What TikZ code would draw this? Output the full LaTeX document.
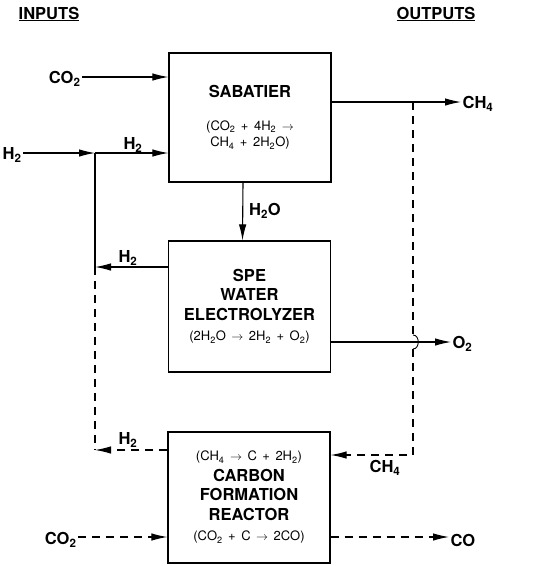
\documentclass[tikz,border=0pt]{standalone}
\usepackage{fontspec}
\setmainfont{TeX Gyre Heros}
\usetikzlibrary{arrows.meta,positioning}
\newcommand{\rxn}{\fontsize{13}{15}\selectfont\mdseries}
\newcommand{\yields}{$\rightarrow$}

\begin{document}
\begin{tikzpicture}[x=1pt,y=-1pt,line width=1.1pt,
 unit/.style={draw, line width=1.2pt, align=center, text width=160pt, minimum width=162pt, font=\fontsize{16.5}{19.5}\selectfont\bfseries, inner sep=0pt},
 lbl/.style={font=\fontsize{16.5}{18}\selectfont\bfseries, inner sep=1pt},
 flow/.style={-{Latex[length=16pt,width=7.5pt]}},
 dflow/.style={flow, dash pattern=on 8pt off 6pt},
 dline/.style={dash pattern=on 8pt off 6pt}]
\useasboundingbox (0,0) rectangle (557,566);
% headings
\node[lbl] (inputs) at (49,14) {\underline{INPUTS}};
\node[lbl] (outputs) at (436,14) {\underline{OUTPUTS}};
% process units
\node[unit, minimum height=129pt] (sab) at (250,117.5) {SABATIER\\[13pt]
 {\rxn (CO\textsubscript{2} + 4H\textsubscript{2} \yields}\\[-3pt]
 {\rxn CH\textsubscript{4} + 2H\textsubscript{2}O)}};
\node[unit, minimum height=131pt] (spe) at (249.5,306.5) {SPE\\WATER\\ELECTROLYZER\\[1pt]
 {\rxn (2H\textsubscript{2}O \yields{} 2H\textsubscript{2} + O\textsubscript{2})}};
\node[unit, minimum height=131pt] (cfr) at (249,497.5) {{\rxn (CH\textsubscript{4} \yields{} C + 2H\textsubscript{2})}\\[1pt]
 CARBON\\FORMATION\\REACTOR\\[1pt]
 {\rxn (CO\textsubscript{2} + C \yields{} 2CO)}};
% stream ends
\node[lbl, anchor=east] (co2a) at (82,79) {CO\textsubscript{2}};
\node[lbl, anchor=east] (h2in) at (23,155) {H\textsubscript{2}};
\node[lbl, anchor=west] (ch4out) at (461,104) {CH\textsubscript{4}};
\node[lbl, anchor=west] (o2out) at (451,344) {O\textsubscript{2}};
\node[lbl, anchor=east] (co2b) at (78,540) {CO\textsubscript{2}};
\node[lbl, anchor=west] (coout) at (449,540) {CO};
% junctions
\coordinate (jH) at (95,153);
\coordinate (jS) at (95,267);
\coordinate (jR) at (95,450);
\coordinate (jC) at (413,102);
\coordinate (jM) at (413,455);
\coordinate (hopA) at (413,335);
\coordinate (hopB) at (413,349);
% solid streams
\draw[flow] (co2a.east |- 0,77) -- (sab.west |- 0,77);
\draw[flow] (h2in.east |- jH) -- (jH);
\draw[flow] (jH) -- (sab.west |- jH);
\draw[flow] (sab.east |- jC) -- (ch4out.west |- jC);
\draw[flow] ([xshift=-7pt]sab.south) -- ([xshift=-7pt]spe.north);
\draw[flow] (spe.west |- jS) -- (jS);
\draw (jH) -- (jS);
\draw[flow] (spe.east |- 0,342) -- (o2out.west |- 0,342);
% dashed streams
\draw[dline] (jS) -- (jR);
\draw[dflow] (cfr.west |- jR) -- (jR);
\draw[dline] (jC) -- (hopA);
\draw[line width=0.9pt] (hopA) .. controls (420,335) and (420,349) .. (hopB);
\draw[dflow] (hopB) -- (jM) -- (cfr.east |- jM);
\draw[dflow] (co2b.east |- 0,537) -- (cfr.west |- 0,537);
\draw[dflow] (cfr.east |- 0,537) -- (coout.west |- 0,537);
% stream labels
\node[lbl] (h2a) at (133,145) {H\textsubscript{2}};
\node[lbl] (h2o) at (265,211) {H\textsubscript{2}O};
\node[lbl] (h2b) at (128,258) {H\textsubscript{2}};
\node[lbl] (h2c) at (128,440) {H\textsubscript{2}};
\node[lbl] (ch4in) at (385,468) {CH\textsubscript{4}};
\end{tikzpicture}
\end{document}
